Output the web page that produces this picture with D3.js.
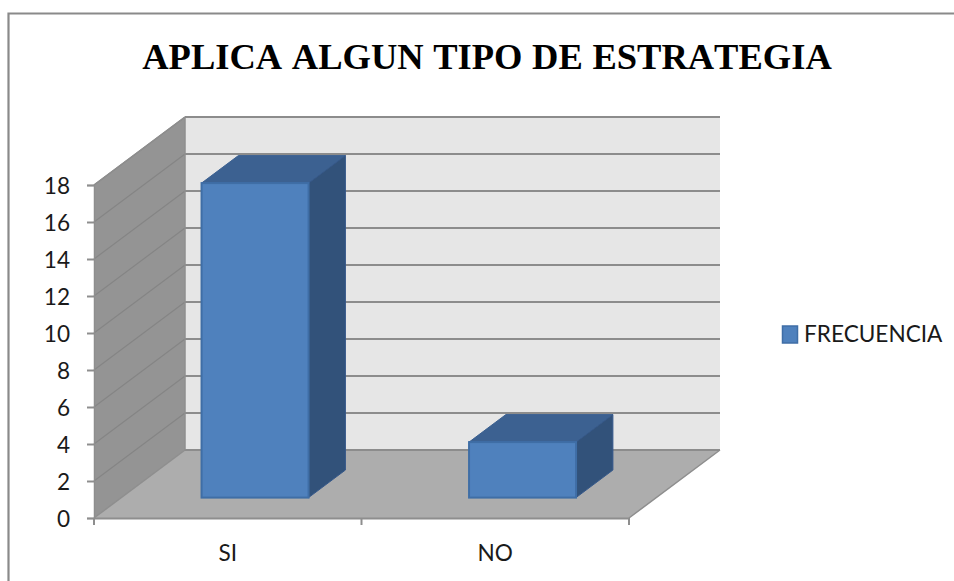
<!DOCTYPE html>
<html>
<head>
<meta charset="utf-8">
<script src="https://cdn.jsdelivr.net/npm/d3@7"></script>
<style>
html,body{margin:0;padding:0;background:#fff;}
svg{display:block;}
</style>
</head>
<body>
<script>
const categories = ["SI", "NO"];
const seriesName = "FRECUENCIA";
const frecuencia = [17, 3];
const yTicks = [0, 2, 4, 6, 8, 10, 12, 14, 16, 18];
const titleText = "APLICA ALGUN TIPO DE ESTRATEGIA";

const W = 954, H = 581;
const svg = d3.select("body").append("svg").attr("width", W).attr("height", H);
const uiFont = "Lato, 'Open Sans', sans-serif";
const uiSize = 22.6;

const x0 = 94, x1 = 629, yBase = 518, yTop = 185;
const depth = {dx: 91, dy: -68};
const barNear = 0.30, barFar = 0.705;

const x = d3.scaleBand().domain(categories).range([x0, x1]).paddingInner(0.6).paddingOuter(0.3);
const labelX = d3.scaleBand().domain(categories).range([x0, x1]);
const y = d3.scaleLinear().domain([0, 18]).range([yBase, yTop]);
const poly = pts => pts.map(p => p.join(",")).join(" ");

// Outer frame (top and left only)
svg.append("path").attr("d", `M8.5,${H} V13.5 H${W}`)
  .attr("fill", "none").attr("stroke", "#8a8a8a").attr("stroke-width", 2.2);

// Title
svg.append("text").attr("x", 487).attr("y", 69).attr("text-anchor", "middle")
  .attr("font-family", "'Liberation Serif', serif").attr("font-weight", "bold")
  .attr("font-size", 36.5).attr("fill", "#000")
  .style("font-kerning", "none").attr("word-spacing", 0.5).text(titleText);

// Back wall
svg.append("polygon").attr("fill", "#e6e6e6")
  .attr("points", poly([[x0 + depth.dx, y(18) + depth.dy], [x1 + depth.dx, y(18) + depth.dy], [x1 + depth.dx, yBase + depth.dy], [x0 + depth.dx, yBase + depth.dy]]));
// Side wall
svg.append("polygon").attr("fill", "#949494")
  .attr("points", poly([[x0, y(18)], [x0 + depth.dx, y(18) + depth.dy], [x0 + depth.dx, yBase + depth.dy], [x0, yBase]]));
// Floor
svg.append("polygon").attr("fill", "#adadad")
  .attr("points", poly([[x0, yBase], [x0 + depth.dx, yBase + depth.dy], [x1 + depth.dx, yBase + depth.dy], [x1, yBase]]));

// Gridlines on back wall
svg.append("g").selectAll("line").data(yTicks).join("line")
  .attr("x1", x0 + depth.dx).attr("x2", x1 + depth.dx)
  .attr("y1", d => y(d) + depth.dy).attr("y2", d => y(d) + depth.dy)
  .attr("stroke", "#8c8c8c").attr("stroke-width", 2);
// Gridlines on side wall
svg.append("g").selectAll("line").data(yTicks.filter(d => d > 0)).join("line")
  .attr("x1", x0).attr("x2", x0 + depth.dx)
  .attr("y1", d => y(d)).attr("y2", d => y(d) + depth.dy)
  .attr("stroke", "#858585").attr("stroke-width", 1.2);

// Floor and wall edges
svg.append("path").attr("fill", "none").attr("stroke", "#8e8e8e").attr("stroke-width", 1.5)
  .attr("d", `M${x0},${y(18)} L${x0 + depth.dx},${y(18) + depth.dy} M${x0 + depth.dx},${y(18) + depth.dy} V${yBase + depth.dy} M${x0},${yBase} L${x0 + depth.dx},${yBase + depth.dy} M${x1},${yBase} L${x1 + depth.dx},${yBase + depth.dy}`);

// Bars
const bars = svg.append("g").selectAll("g").data(categories.map((c, i) => ({c, v: frecuencia[i]}))).join("g");
const nx = barNear * depth.dx, ny = barNear * depth.dy;
const fx = barFar * depth.dx, fy = barFar * depth.dy;
bars.append("polygon").attr("fill", "#3c6191").attr("stroke", "#3c6191").attr("stroke-width", 1)
  .attr("points", d => {
    const l = x(d.c), r = l + x.bandwidth(), t = y(d.v);
    return poly([[l + nx, t + ny], [r + nx, t + ny], [r + fx, t + fy], [l + fx, t + fy]]);
  });
bars.append("polygon").attr("fill", "#32527a").attr("stroke", "#35588a").attr("stroke-width", 1)
  .attr("points", d => {
    const r = x(d.c) + x.bandwidth(), t = y(d.v);
    return poly([[r + nx, t + ny], [r + fx, t + fy], [r + fx, yBase + fy], [r + nx, yBase + ny]]);
  });
bars.append("rect").attr("fill", "#4f81bd").attr("stroke", "#3f6ea6").attr("stroke-width", 2)
  .attr("x", d => x(d.c) + nx).attr("width", x.bandwidth())
  .attr("y", d => y(d.v) + ny).attr("height", d => yBase - y(d.v));

// Y axis
const yAxis = svg.append("g").attr("transform", `translate(${x0},0)`)
  .call(d3.axisLeft(y).tickValues(yTicks).tickSize(7).tickPadding(17));
yAxis.select(".domain").attr("stroke", "#8e8e8e").attr("stroke-width", 1.5);
yAxis.selectAll("line").attr("stroke", "#8e8e8e").attr("stroke-width", 2);
yAxis.selectAll("text").attr("font-family", uiFont).attr("font-size", uiSize).attr("fill", "#1a1a1a").attr("dy", "0.36em");

// X axis: baseline, ticks at category boundaries, labels at band centres
const xAxis = svg.append("g").attr("transform", `translate(0,${yBase})`)
  .call(d3.axisBottom(labelX).tickSize(0).tickPadding(27));
xAxis.select(".domain").attr("stroke", "#8e8e8e").attr("stroke-width", 2);
xAxis.selectAll("text").attr("font-family", uiFont).attr("font-size", uiSize).attr("fill", "#1a1a1a");
xAxis.append("g").selectAll("line").data(categories.concat("end")).join("line")
  .attr("x1", (d, i) => x0 + i * labelX.step()).attr("x2", (d, i) => x0 + i * labelX.step())
  .attr("y1", 0).attr("y2", 7).attr("stroke", "#8e8e8e").attr("stroke-width", 2);

// Legend
const legend = svg.append("g");
legend.append("rect").attr("x", 782.5).attr("y", 326).attr("width", 15).attr("height", 17)
  .attr("fill", "#4f81bd").attr("stroke", "#3f6ea6").attr("stroke-width", 1.5);
legend.append("text").attr("x", 804).attr("y", 342).attr("font-family", uiFont).attr("font-size", uiSize)
  .attr("fill", "#1a1a1a").text(seriesName);
</script>
</body>
</html>
